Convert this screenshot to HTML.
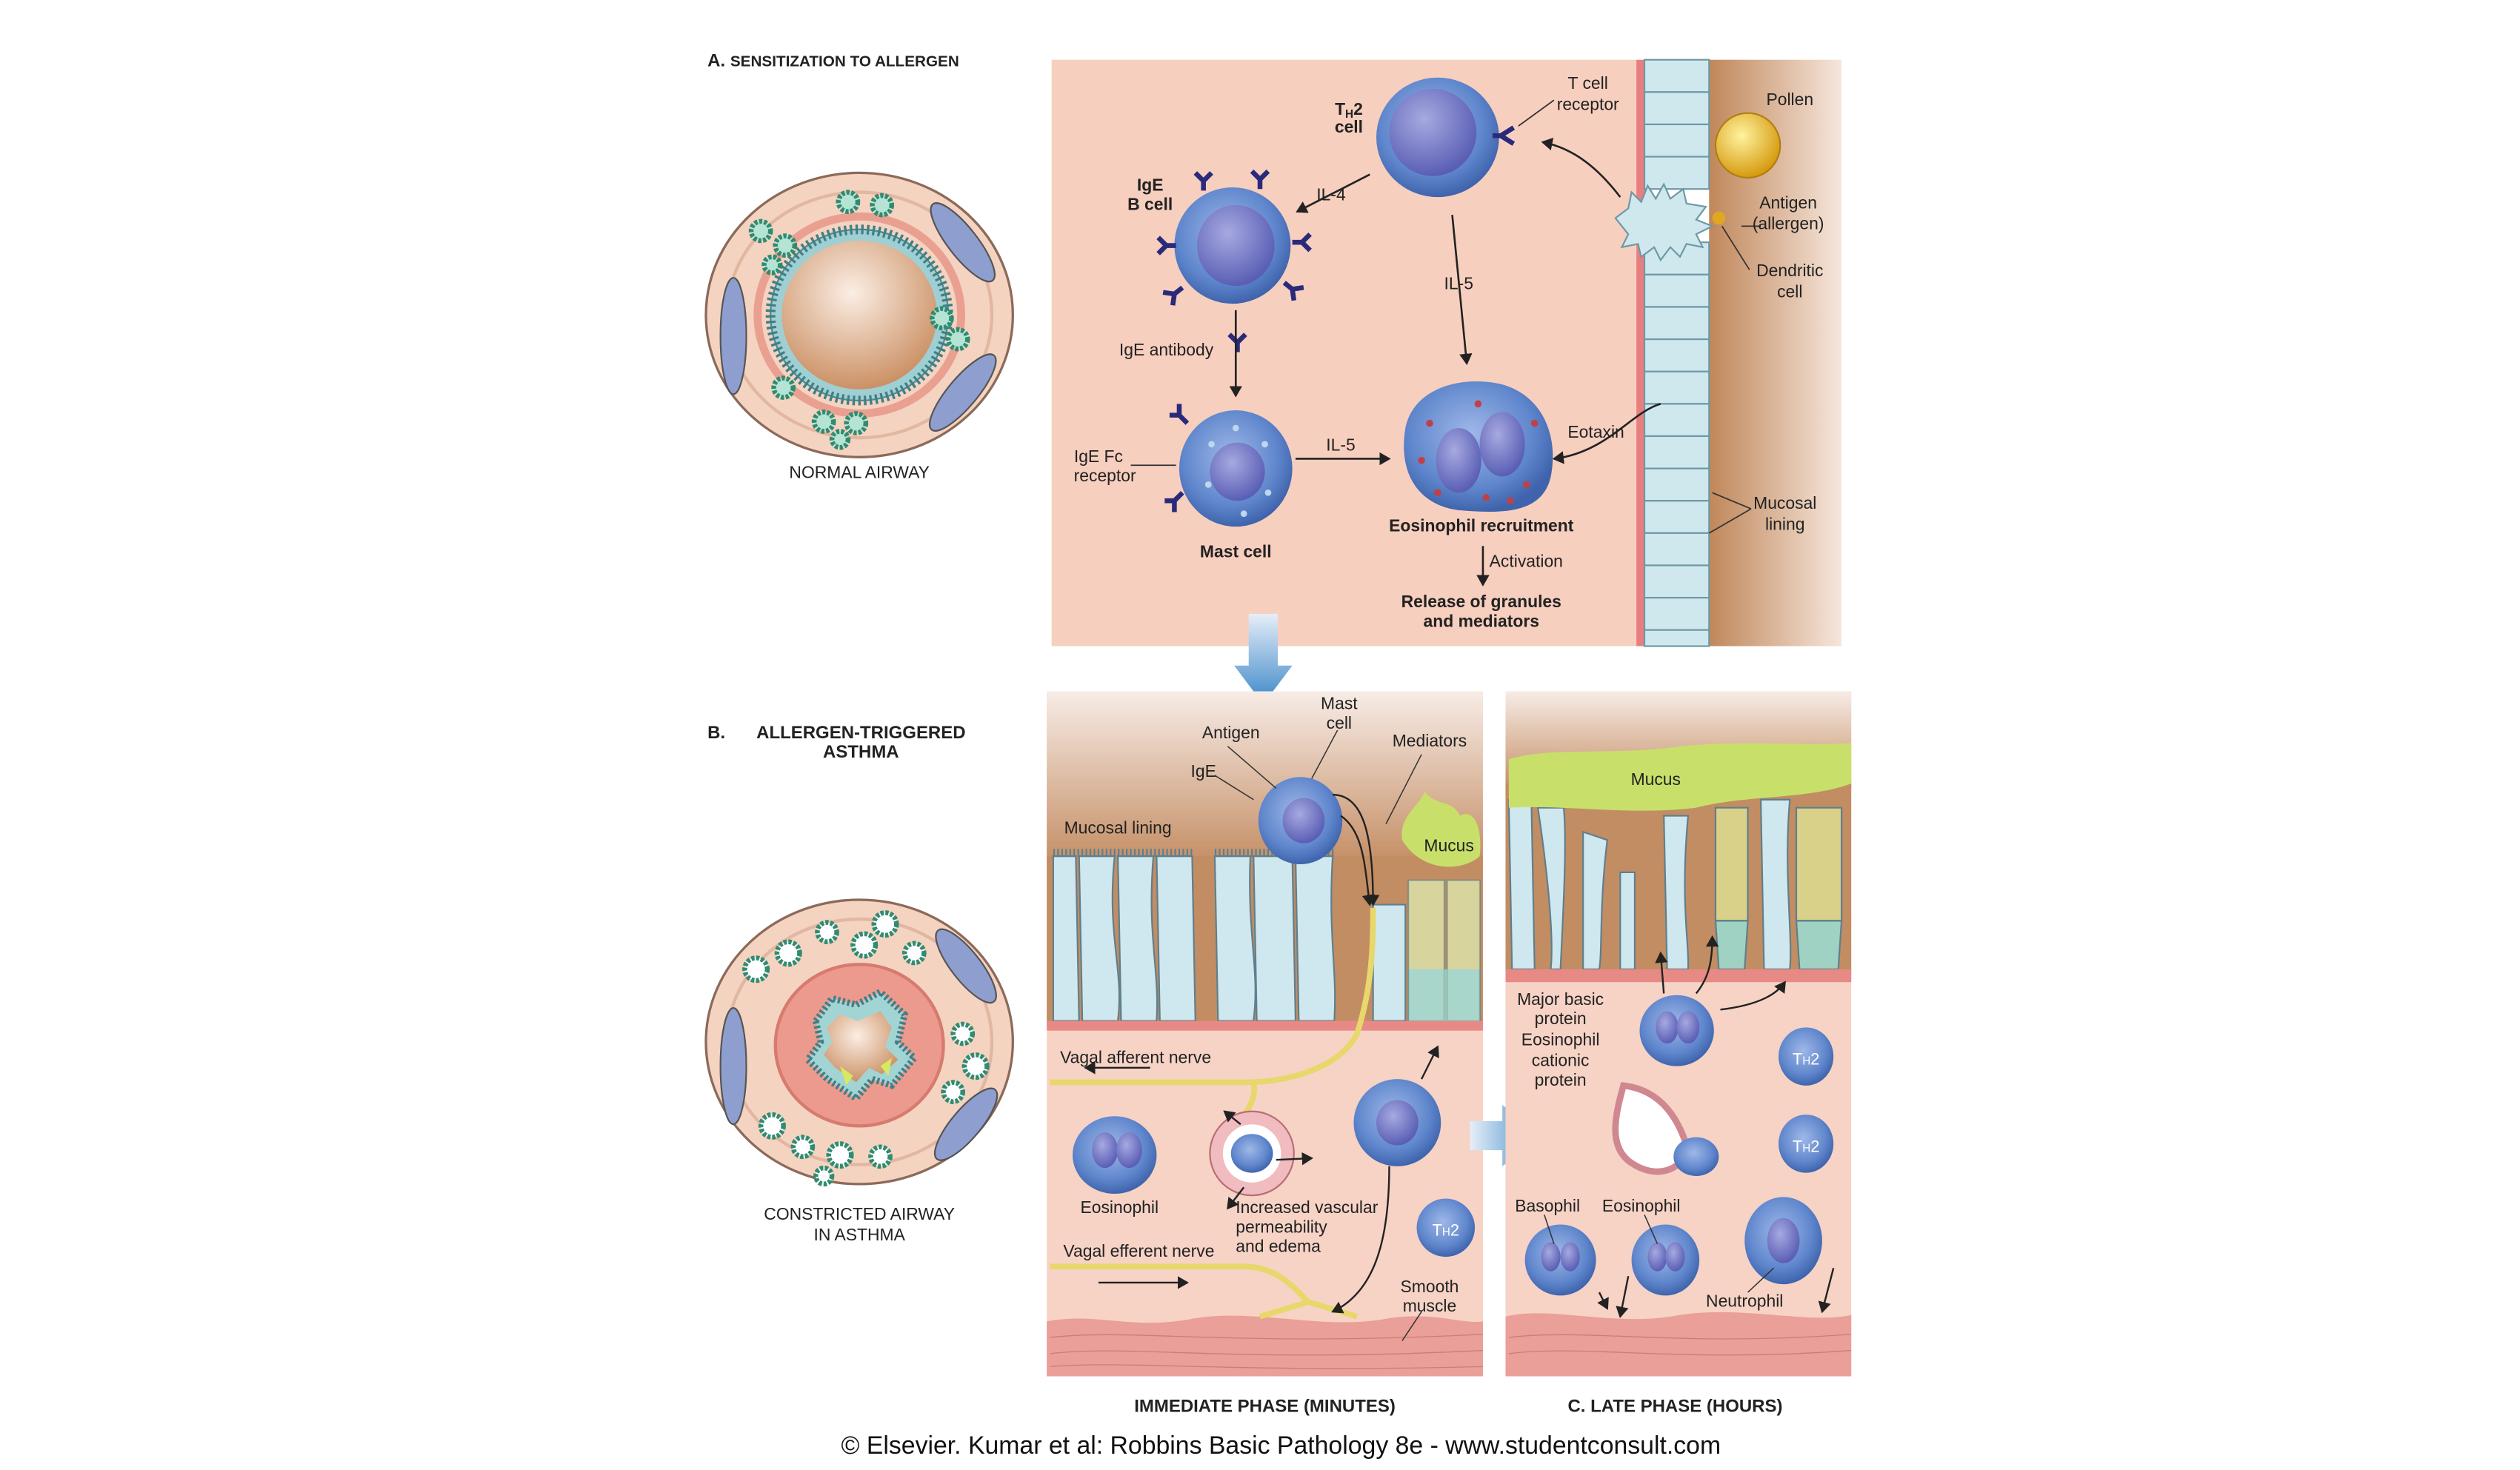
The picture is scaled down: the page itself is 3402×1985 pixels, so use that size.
<!DOCTYPE html>
<html><head><meta charset="utf-8"><style>
html,body{margin:0;padding:0;background:#fff;}
svg{display:block;}
text{font-family:"Liberation Sans",sans-serif;fill:#222;}
.s{font-size:10.5px;}
.b{font-weight:bold;}
.t{font-size:11px;font-weight:bold;}
</style></head><body>
<svg width="3402" height="1985" viewBox="0 0 1560 910" preserveAspectRatio="none" xmlns="http://www.w3.org/2000/svg">
<defs>
<radialGradient id="cell" cx="45%" cy="40%" r="60%"><stop offset="0" stop-color="#9fb8e8"/><stop offset="0.7" stop-color="#5f86cc"/><stop offset="1" stop-color="#3f64ad"/></radialGradient>
<radialGradient id="nuc" cx="40%" cy="35%" r="65%"><stop offset="0" stop-color="#a7a9e0"/><stop offset="1" stop-color="#5a5fb5"/></radialGradient>
<radialGradient id="lumen" cx="45%" cy="35%" r="70%"><stop offset="0" stop-color="#fbeee4"/><stop offset="1" stop-color="#c88a5c"/></radialGradient>
<radialGradient id="pollen" cx="40%" cy="35%" r="65%"><stop offset="0" stop-color="#fff3a0"/><stop offset="1" stop-color="#d69b10"/></radialGradient>
<linearGradient id="brownR" x1="0" x2="1"><stop offset="0" stop-color="#c0875a"/><stop offset="1" stop-color="#f6e6dc"/></linearGradient>
<linearGradient id="topB" x1="0" y1="0" x2="0" y2="1"><stop offset="0" stop-color="#f7ece6"/><stop offset="1" stop-color="#c58f66"/></linearGradient>
<linearGradient id="arrowD" x1="0" y1="0" x2="0" y2="1"><stop offset="0" stop-color="#e6eef8"/><stop offset="1" stop-color="#3a86c8"/></linearGradient>
<linearGradient id="arrowR" x1="0" y1="0" x2="1" y2="0"><stop offset="0" stop-color="#e6eef8"/><stop offset="1" stop-color="#3a86c8"/></linearGradient>
<marker id="ah" markerWidth="8" markerHeight="8" refX="6" refY="4" orient="auto" markerUnits="userSpaceOnUse"><path d="M0,0 L7,4 L0,8 Z" fill="#222"/></marker>
</defs>

<text x="438" y="41" class="t">A. <tspan font-size="9.5">SENSITIZATION TO ALLERGEN</tspan></text>
<text x="438" y="457" class="t">B.</text>
<text x="533" y="457" class="t" font-size="10" text-anchor="middle">ALLERGEN-TRIGGERED</text>
<text x="533" y="469" class="t" font-size="10" text-anchor="middle">ASTHMA</text>

<!-- Normal airway -->
<g>
<ellipse cx="532" cy="195" rx="95" ry="88" fill="#f5d3c1" stroke="#8b6a5a" stroke-width="1.5"/>
<ellipse cx="532" cy="195" rx="82" ry="76" fill="none" stroke="#e2b7a2" stroke-width="2"/>
<ellipse cx="532" cy="195" rx="63" ry="61" fill="none" stroke="#e58a7c" stroke-width="5" opacity="0.7"/>
<ellipse cx="532" cy="195" rx="55" ry="53" fill="#9fcfd2" stroke="#4d8a8f" stroke-width="1"/>
<ellipse cx="532" cy="195" rx="55" ry="53" fill="none" stroke="#3f7f86" stroke-width="6" stroke-dasharray="1.5 2"/>
<ellipse cx="532" cy="195" rx="48" ry="46" fill="url(#lumen)"/>
<ellipse cx="454" cy="208" rx="8" ry="36" fill="#8e9fcf" stroke="#555" stroke-width="1"/>
<ellipse cx="596" cy="150" rx="9" ry="30" fill="#8e9fcf" stroke="#555" stroke-width="1" transform="rotate(-38 596 150)"/>
<ellipse cx="596" cy="243" rx="9" ry="30" fill="#8e9fcf" stroke="#555" stroke-width="1" transform="rotate(40 596 243)"/>
<g fill="#b5e3d4" stroke="#2e8c72" stroke-width="3" stroke-dasharray="2 1">
<circle cx="525" cy="125" r="6"/><circle cx="546" cy="127" r="6"/><circle cx="471" cy="143" r="6"/><circle cx="486" cy="152" r="6"/><circle cx="478" cy="164" r="5"/>
<circle cx="583" cy="197" r="6"/><circle cx="593" cy="210" r="6"/><circle cx="485" cy="240" r="6"/><circle cx="510" cy="261" r="6"/><circle cx="530" cy="262" r="6"/><circle cx="520" cy="272" r="5"/>
</g>
</g>
<text x="532" y="296" class="s" text-anchor="middle" font-size="10">NORMAL AIRWAY</text>

<!-- Constricted airway -->
<g>
<ellipse cx="532" cy="645" rx="95" ry="88" fill="#f5d3c1" stroke="#8b6a5a" stroke-width="1.5"/>
<ellipse cx="532" cy="645" rx="82" ry="76" fill="none" stroke="#e2b7a2" stroke-width="2"/>
<ellipse cx="532" cy="647" rx="52" ry="50" fill="#ec9a8e" stroke="#d77a6f" stroke-width="2"/>
<path d="M505,632 L515,618 L530,622 L545,614 L560,628 L556,645 L566,655 L552,672 L540,668 L530,680 L512,668 L500,656 L508,645 Z" fill="#a3d4d4" stroke="#3f7f86" stroke-width="4" stroke-dasharray="1.5 1.5"/>
<path d="M512,636 L520,628 L531,632 L545,626 L552,636 L548,648 L556,656 L546,665 L538,661 L530,670 L517,661 L510,653 L515,645 Z" fill="url(#lumen)"/>
<path d="M520,660 L528,666 L524,672 Z M545,660 L552,655 L550,666 Z" fill="#d8e860"/>
<ellipse cx="454" cy="660" rx="8" ry="36" fill="#8e9fcf" stroke="#555" stroke-width="1"/>
<ellipse cx="598" cy="598" rx="9" ry="28" fill="#8e9fcf" stroke="#555" stroke-width="1" transform="rotate(-38 598 598)"/>
<ellipse cx="598" cy="696" rx="9" ry="28" fill="#8e9fcf" stroke="#555" stroke-width="1" transform="rotate(40 598 696)"/>
<g fill="#fff" stroke="#2e8c72" stroke-width="3" stroke-dasharray="2 1">
<circle cx="468" cy="600" r="7"/><circle cx="488" cy="590" r="7"/><circle cx="512" cy="577" r="6"/><circle cx="535" cy="585" r="7"/><circle cx="548" cy="572" r="7"/><circle cx="566" cy="590" r="6"/>
<circle cx="596" cy="640" r="6"/><circle cx="604" cy="660" r="7"/><circle cx="590" cy="676" r="6"/><circle cx="478" cy="697" r="7"/><circle cx="497" cy="710" r="6"/><circle cx="520" cy="715" r="7"/><circle cx="545" cy="716" r="6"/><circle cx="510" cy="728" r="5"/>
</g>
</g>
<text x="532" y="755" class="s" text-anchor="middle" font-size="10">CONSTRICTED AIRWAY</text>
<text x="532" y="768" class="s" text-anchor="middle" font-size="10">IN ASTHMA</text>

<!-- Panel A -->
<rect x="651" y="37" width="362" height="363" fill="#f7cfbf"/>
<rect x="1058" y="37" width="82" height="363" fill="url(#brownR)"/>
<path d="M1013,37 L1013,400 L1020,400 C1016,300 1024,200 1018,37 Z" fill="#e87f7f"/>
<g fill="#cfe8ee" stroke="#6f98a6" stroke-width="1">
<rect x="1018" y="37" width="40" height="20"/><rect x="1018" y="57" width="40" height="20"/><rect x="1018" y="77" width="40" height="20"/><rect x="1018" y="97" width="40" height="20"/>
<rect x="1018" y="150" width="40" height="20"/><rect x="1018" y="170" width="40" height="20"/><rect x="1018" y="190" width="40" height="20"/><rect x="1018" y="210" width="40" height="20"/><rect x="1018" y="230" width="40" height="20"/><rect x="1018" y="250" width="40" height="20"/><rect x="1018" y="270" width="40" height="20"/><rect x="1018" y="290" width="40" height="20"/><rect x="1018" y="310" width="40" height="20"/><rect x="1018" y="330" width="40" height="20"/><rect x="1018" y="350" width="40" height="20"/><rect x="1018" y="370" width="40" height="20"/><rect x="1018" y="390" width="40" height="10"/>
</g>
<path d="M1000,135 l8,-6 l2,-10 l6,6 l4,-10 l5,8 l5,-9 l4,9 l8,-6 l2,9 l12,2 l-6,8 l10,4 l-10,5 l4,8 l-10,-2 l-4,8 l-6,-6 l-6,8 l-4,-8 l-8,6 l-2,-8 l-10,2 l4,-8 Z" fill="#cfe8ee" stroke="#6f98a6" stroke-width="1"/>
<circle cx="1082" cy="90" r="20" fill="url(#pollen)" stroke="#b07e10" stroke-width="1"/>
<circle cx="1064" cy="135" r="4" fill="#e0a820"/>

<ellipse cx="890" cy="85" rx="38" ry="37" fill="url(#cell)"/>
<ellipse cx="887" cy="82" rx="27" ry="27" fill="url(#nuc)"/>
<path d="M929,84 l8,-5 M929,84 l8,5 M929,84 l-5,0" stroke="#2a2a7a" stroke-width="3"/>
<ellipse cx="763" cy="152" rx="36" ry="36" fill="url(#cell)"/>
<ellipse cx="765" cy="152" rx="24" ry="25" fill="url(#nuc)"/>
<g stroke="#2a2a7a" stroke-width="3" fill="none">
<path d="M745,118 l0,-6 l-5,-5 M745,112 l5,-5"/><path d="M780,117 l0,-6 l-5,-5 M780,111 l5,-5"/>
<path d="M728,152 l-6,0 l-5,-5 M722,152 l-5,5"/><path d="M800,150 l6,0 l5,-5 M806,150 l5,5"/>
<path d="M732,178 l-5,4 l-1,7 M727,182 l-7,-1"/><path d="M795,175 l5,4 l1,7 M800,179 l7,-1"/>
<path d="M766,218 l0,-6 l-5,-5 M766,212 l5,-5"/>
<path d="M735,262 l-5,-5 l-6,0 M730,257 l0,-7"/><path d="M732,305 l-5,5 l-6,0 M727,310 l0,7"/>
</g>
<ellipse cx="765" cy="290" rx="35" ry="36" fill="url(#cell)"/>
<ellipse cx="766" cy="292" rx="17" ry="18" fill="url(#nuc)"/>
<g fill="#bcd7ee"><circle cx="750" cy="275" r="2"/><circle cx="783" cy="275" r="2"/><circle cx="748" cy="300" r="2"/><circle cx="785" cy="305" r="2"/><circle cx="765" cy="265" r="2"/><circle cx="770" cy="318" r="2"/></g>
<path d="M870,265 C875,240 905,232 930,238 C955,245 965,270 960,295 C955,318 930,318 905,316 C880,314 865,295 870,265 Z" fill="url(#cell)"/>
<ellipse cx="903" cy="285" rx="14" ry="20" fill="url(#nuc)"/>
<ellipse cx="930" cy="275" rx="14" ry="20" fill="url(#nuc)"/>
<g fill="#c0404a"><circle cx="885" cy="262" r="2.2"/><circle cx="890" cy="305" r="2.2"/><circle cx="915" cy="250" r="2.2"/><circle cx="945" cy="300" r="2.2"/><circle cx="950" cy="262" r="2.2"/><circle cx="920" cy="308" r="2.2"/><circle cx="880" cy="285" r="2.2"/><circle cx="935" cy="310" r="2.2"/></g>

<g stroke="#222" stroke-width="1.2" fill="none" marker-end="url(#ah)">
<path d="M1003,122 C990,105 975,92 955,88"/>
<path d="M848,108 L803,131"/>
<path d="M899,133 L908,225"/>
<path d="M765,192 L765,245"/>
<path d="M802,284 L860,284"/>
<path d="M1028,250 C1010,255 995,280 962,284"/>
<path d="M918,338 L918,362"/>
</g>
<g stroke="#333" stroke-width="0.8" fill="none">
<path d="M962,62 L940,78"/><path d="M1090,140 L1078,140"/><path d="M1083,167 L1066,140"/><path d="M700,288 L728,288"/><path d="M1084,315 L1060,305 M1084,315 L1058,330"/>
</g>
<g class="s">
<text x="983" y="55" text-anchor="middle">T cell</text><text x="983" y="68" text-anchor="middle">receptor</text>
<text x="1108" y="65" text-anchor="middle">Pollen</text>
<text x="1107" y="129" text-anchor="middle">Antigen</text><text x="1107" y="142" text-anchor="middle">(allergen)</text>
<text x="1108" y="171" text-anchor="middle">Dendritic</text><text x="1108" y="184" text-anchor="middle">cell</text>
<text x="835" y="71" text-anchor="middle" class="b">T<tspan font-size="7" dy="2">H</tspan><tspan dy="-2">2</tspan></text><text x="835" y="82" text-anchor="middle" class="b">cell</text>
<text x="712" y="118" text-anchor="middle" class="b">IgE</text><text x="712" y="130" text-anchor="middle" class="b">B cell</text>
<text x="824" y="124" text-anchor="middle">IL-4</text>
<text x="903" y="179" text-anchor="middle">IL-5</text>
<text x="722" y="220" text-anchor="middle">IgE antibody</text>
<text x="680" y="286" text-anchor="middle">IgE Fc</text><text x="684" y="298" text-anchor="middle">receptor</text>
<text x="830" y="279" text-anchor="middle">IL-5</text>
<text x="988" y="271" text-anchor="middle">Eotaxin</text>
<text x="1105" y="315" text-anchor="middle">Mucosal</text><text x="1105" y="328" text-anchor="middle">lining</text>
<text x="765" y="345" text-anchor="middle" class="b">Mast cell</text>
<text x="917" y="329" text-anchor="middle" class="b">Eosinophil recruitment</text>
<text x="922" y="351">Activation</text>
<text x="917" y="376" text-anchor="middle" class="b">Release of granules</text>
<text x="917" y="388" text-anchor="middle" class="b">and mediators</text>
</g>

<path d="M773,380 L791,380 L791,412 L800,412 L782,436 L764,412 L773,412 Z" fill="url(#arrowD)"/>

<!-- Panel B -->
<rect x="648" y="428" width="270" height="424" fill="#f6d3c5"/>
<rect x="648" y="428" width="270" height="105" fill="url(#topB)"/>
<rect x="648" y="530" width="270" height="105" fill="#c28d63"/>
<g fill="#cfe7ee" stroke="#5f7f8c" stroke-width="1">
<path d="M652,530 L666,530 L668,632 L652,632 Z"/><path d="M668,530 L690,530 C685,580 696,600 692,632 L670,632 Z"/><path d="M692,530 L714,530 C710,580 718,600 716,632 L694,632 Z"/><path d="M716,530 L738,530 L740,632 L718,632 Z"/>
<path d="M752,530 L774,530 C772,580 780,600 776,632 L754,632 Z"/><path d="M776,530 L800,530 L802,632 L778,632 Z"/><path d="M802,530 L825,530 C822,580 828,600 826,632 L804,632 Z"/>
<path d="M850,560 L870,560 L870,632 L850,632 Z"/><path d="M872,545 L894,545 L894,632 L872,632 Z"/><path d="M896,545 L916,545 L916,632 L896,632 Z"/>
</g>
<g stroke="#5f7f8c" fill="none"><path d="M652,528 L738,528 M752,528 L826,528" stroke-dasharray="1 1.5" stroke-width="5"/></g>
<path d="M872,545 L894,545 L894,600 L872,600 Z M896,545 L916,545 L916,600 L896,600 Z" fill="#d9d08a" opacity="0.8"/>
<path d="M872,600 L916,600 L916,632 L872,632 Z" fill="#9fd2c2" opacity="0.8"/>
<path d="M868,520 C866,505 878,500 882,490 C890,500 898,494 904,505 C912,500 918,512 916,530 C905,540 880,540 868,520 Z" fill="#c8e06a"/>
<rect x="648" y="632" width="270" height="6" fill="#e78a86"/>
<path d="M648,818 C680,812 700,824 740,816 C780,810 820,824 860,816 C890,812 905,820 918,818 L918,852 L648,852 Z" fill="#ea9f98"/>
<g stroke="#c06d6a" stroke-width="0.6" fill="none" opacity="0.7"><path d="M650,828 C700,822 760,834 918,826 M650,838 C700,832 760,844 918,836 M650,846 C700,842 760,850 918,846"/></g>
<g stroke="#e8d76a" stroke-width="3.5" fill="none">
<path d="M650,670 L770,670 C800,670 830,660 840,640 C850,610 850,580 850,562"/>
<path d="M776,670 C778,680 772,688 770,690"/>
<path d="M650,784 L770,784 C790,784 800,796 810,806 M810,806 L780,815 M810,806 L840,815"/>
</g>
<ellipse cx="805" cy="508" rx="26" ry="27" fill="url(#cell)"/><ellipse cx="807" cy="508" rx="13" ry="14" fill="url(#nuc)"/>
<ellipse cx="690" cy="715" rx="26" ry="24" fill="url(#cell)"/><ellipse cx="684" cy="712" rx="8" ry="11" fill="url(#nuc)"/><ellipse cx="699" cy="712" rx="8" ry="11" fill="url(#nuc)"/>
<ellipse cx="775" cy="714" rx="26" ry="26" fill="#f0bcc0" stroke="#b86e74" stroke-width="1"/><ellipse cx="775" cy="714" rx="18" ry="18" fill="#fff"/><ellipse cx="775" cy="714" rx="13" ry="12" fill="url(#cell)"/>
<ellipse cx="865" cy="695" rx="27" ry="27" fill="url(#cell)"/><ellipse cx="865" cy="695" rx="13" ry="14" fill="url(#nuc)"/>
<ellipse cx="895" cy="760" rx="18" ry="18" fill="url(#cell)"/><text x="895" y="765" text-anchor="middle" font-size="10" style="fill:#fff">T<tspan font-size="7">H</tspan>2</text>
<g stroke="#222" stroke-width="1.1" fill="none" marker-end="url(#ah)">
<path d="M825,492 C845,492 850,520 850,560"/><path d="M830,505 C845,515 845,540 848,560"/>
<path d="M880,668 L890,648"/><path d="M860,722 C860,770 850,800 825,812"/>
<path d="M712,661 L672,661"/><path d="M680,794 L735,794"/>
<path d="M790,718 L812,717"/><path d="M770,735 L760,748"/><path d="M768,696 L758,688"/>
</g>
<g stroke="#333" stroke-width="0.7" fill="none"><path d="M760,462 L790,488"/><path d="M752,480 L776,495"/><path d="M828,452 L812,482"/><path d="M880,467 L858,510"/><path d="M880,812 L868,830"/></g>
<g class="s">
<text x="829" y="439" text-anchor="middle">Mast</text><text x="829" y="451" text-anchor="middle">cell</text>
<text x="762" y="457" text-anchor="middle">Antigen</text>
<text x="885" y="462" text-anchor="middle">Mediators</text>
<text x="745" y="481" text-anchor="middle">IgE</text>
<text x="692" y="516" text-anchor="middle">Mucosal lining</text>
<text x="897" y="527" text-anchor="middle">Mucus</text>
<text x="703" y="658" text-anchor="middle">Vagal afferent nerve</text>
<text x="693" y="751" text-anchor="middle">Eosinophil</text>
<text x="765" y="751">Increased vascular</text><text x="765" y="763">permeability</text><text x="765" y="775">and edema</text>
<text x="705" y="778" text-anchor="middle">Vagal efferent nerve</text>
<text x="885" y="800" text-anchor="middle">Smooth</text><text x="885" y="812" text-anchor="middle">muscle</text>
</g>

<path d="M910,694 L930,694 L930,684 L955,703 L930,722 L930,712 L910,712 Z" fill="url(#arrowR)"/>

<!-- Panel C -->
<rect x="932" y="428" width="214" height="424" fill="#f6d3c5"/>
<rect x="932" y="428" width="214" height="60" fill="url(#topB)"/>
<rect x="932" y="485" width="214" height="118" fill="#c28d63"/>
<g fill="#cfe7ee" stroke="#5f7f8c" stroke-width="1">
<path d="M934,495 L948,495 L950,600 L936,600 Z"/><path d="M952,500 C958,540 962,580 960,600 L966,600 C968,560 970,520 968,500 Z"/>
<path d="M980,515 L995,520 C990,560 992,590 990,600 L980,600 Z"/><path d="M1003,540 L1012,540 L1012,600 L1003,600 Z"/>
<path d="M1030,505 L1045,505 C1040,560 1046,585 1045,600 L1032,600 Z"/>
<path d="M1090,495 L1108,495 C1104,540 1110,580 1108,600 L1092,600 Z"/>
</g>
<g fill="#d9d08a" stroke="#5f7f8c" stroke-width="1"><path d="M1062,500 L1082,500 L1082,570 L1062,570 Z"/><path d="M1112,500 L1140,500 L1140,570 L1112,570 Z"/></g>
<g fill="#9fd2c2" stroke="#5f7f8c" stroke-width="1"><path d="M1062,570 L1082,570 L1080,600 L1064,600 Z"/><path d="M1112,570 L1140,570 L1138,600 L1114,600 Z"/></g>
<path d="M934,470 C960,462 1000,468 1040,462 C1080,458 1120,462 1146,460 L1146,485 C1120,495 1080,492 1050,500 C1010,505 970,498 934,500 Z" fill="#c8e06a"/>
<rect x="932" y="600" width="214" height="8" fill="#e78a86"/>
<path d="M932,815 C960,808 1000,822 1040,814 C1080,808 1120,820 1146,814 L1146,852 L932,852 Z" fill="#ea9f98"/>
<g stroke="#c06d6a" stroke-width="0.6" fill="none" opacity="0.7"><path d="M934,828 C980,822 1040,834 1146,826 M934,838 C980,832 1040,844 1146,836"/></g>
<ellipse cx="1038" cy="638" rx="23" ry="22" fill="url(#cell)"/><ellipse cx="1032" cy="636" rx="7" ry="10" fill="url(#nuc)"/><ellipse cx="1045" cy="636" rx="7" ry="10" fill="url(#nuc)"/>
<ellipse cx="1118" cy="654" rx="17" ry="18" fill="url(#cell)"/><text x="1118" y="659" text-anchor="middle" font-size="10" style="fill:#fff">T<tspan font-size="7">H</tspan>2</text>
<ellipse cx="1118" cy="708" rx="17" ry="18" fill="url(#cell)"/><text x="1118" y="713" text-anchor="middle" font-size="10" style="fill:#fff">T<tspan font-size="7">H</tspan>2</text>
<path d="M1005,672 C1000,690 995,710 1010,720 C1025,730 1040,725 1045,712 C1040,695 1030,675 1005,672 Z" fill="#fff" stroke="#d08890" stroke-width="4"/>
<ellipse cx="1050" cy="716" rx="14" ry="12" fill="url(#cell)"/>
<ellipse cx="966" cy="780" rx="22" ry="22" fill="url(#cell)"/><ellipse cx="960" cy="778" rx="6" ry="9" fill="url(#nuc)"/><ellipse cx="972" cy="778" rx="6" ry="9" fill="url(#nuc)"/>
<ellipse cx="1031" cy="780" rx="21" ry="22" fill="url(#cell)"/><ellipse cx="1026" cy="778" rx="6" ry="9" fill="url(#nuc)"/><ellipse cx="1037" cy="778" rx="6" ry="9" fill="url(#nuc)"/>
<ellipse cx="1104" cy="768" rx="24" ry="27" fill="url(#cell)"/><ellipse cx="1104" cy="768" rx="10" ry="14" fill="url(#nuc)"/>
<g stroke="#222" stroke-width="1.1" fill="none" marker-end="url(#ah)">
<path d="M1030,615 L1028,590"/><path d="M1050,615 C1058,605 1060,595 1060,580"/><path d="M1065,625 C1090,622 1100,615 1105,608"/>
<path d="M990,800 L995,810"/><path d="M1008,790 L1003,815"/><path d="M1135,785 L1128,812"/>
</g>
<g stroke="#333" stroke-width="0.7" fill="none"><path d="M956,752 L962,770"/><path d="M1018,752 L1026,770"/><path d="M1082,800 L1098,785"/></g>
<g class="s">
<text x="1025" y="486" text-anchor="middle">Mucus</text>
<text x="966" y="622" text-anchor="middle">Major basic</text><text x="966" y="634" text-anchor="middle">protein</text><text x="966" y="647" text-anchor="middle">Eosinophil</text><text x="966" y="660" text-anchor="middle">cationic</text><text x="966" y="672" text-anchor="middle">protein</text>
<text x="958" y="750" text-anchor="middle">Basophil</text>
<text x="1016" y="750" text-anchor="middle">Eosinophil</text>
<text x="1080" y="809" text-anchor="middle">Neutrophil</text>
</g>

<text x="783" y="874" text-anchor="middle" class="t" font-size="10">IMMEDIATE PHASE (MINUTES)</text>
<text x="1037" y="874" text-anchor="middle" class="t" font-size="10">C. <tspan>LATE PHASE (HOURS)</tspan></text>
<text x="793" y="900" text-anchor="middle" font-size="15.5" style="fill:#111">© Elsevier. Kumar et al: Robbins Basic Pathology 8e - www.studentconsult.com</text>
</svg>
</body></html>
